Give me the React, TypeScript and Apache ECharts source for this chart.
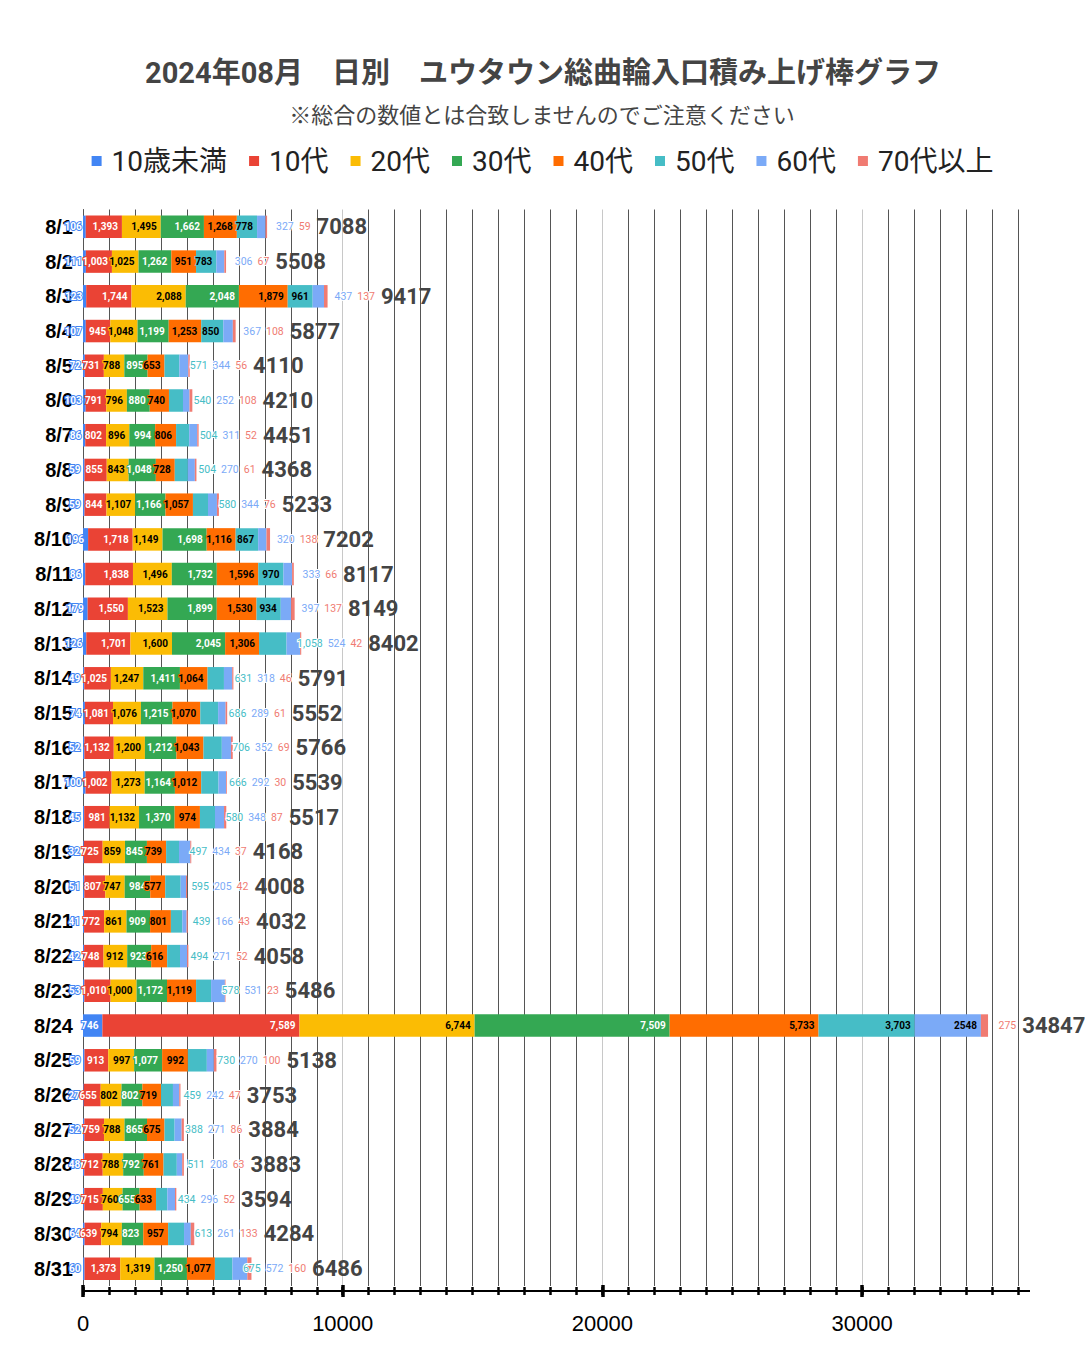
import React, { useEffect, useRef } from 'react';
import * as echarts from 'echarts';

const categories = [
  '8/1', '8/2', '8/3', '8/4', '8/5', '8/6', '8/7', '8/8', '8/9', '8/10',
  '8/11', '8/12', '8/13', '8/14', '8/15', '8/16', '8/17', '8/18', '8/19', '8/20',
  '8/21', '8/22', '8/23', '8/24', '8/25', '8/26', '8/27', '8/28', '8/29', '8/30', '8/31',
];

const seriesNames = ['10歳未満', '10代', '20代', '30代', '40代', '50代', '60代', '70代以上'];
const seriesColors = ['#4285f4', '#ea4335', '#fbbc04', '#34a853', '#ff6d01', '#46bdc6', '#7baaf7', '#f07b72'];

const under10 = [106, 111, 123, 107, 72, 103, 86, 59, 59, 196, 86, 179, 126, 49, 74, 52, 100, 45, 32, 51, 41, 42, 53, 746, 59, 27, 52, 48, 49, 64, 60];
const age10 = [1393, 1003, 1744, 945, 731, 791, 802, 855, 844, 1718, 1838, 1550, 1701, 1025, 1081, 1132, 1002, 981, 725, 807, 772, 748, 1010, 7589, 913, 655, 759, 712, 715, 639, 1373];
const age20 = [1495, 1025, 2088, 1048, 788, 796, 896, 843, 1107, 1149, 1496, 1523, 1600, 1247, 1076, 1200, 1273, 1132, 859, 747, 861, 912, 1000, 6744, 997, 802, 788, 788, 760, 794, 1319];
const age30 = [1662, 1262, 2048, 1199, 895, 880, 994, 1048, 1166, 1698, 1732, 1899, 2045, 1411, 1215, 1212, 1164, 1370, 845, 984, 909, 923, 1172, 7509, 1077, 802, 865, 792, 655, 823, 1250];
const age40 = [1268, 951, 1879, 1253, 653, 740, 806, 728, 1057, 1116, 1596, 1530, 1306, 1064, 1070, 1043, 1012, 974, 739, 577, 801, 616, 1119, 5733, 992, 719, 675, 761, 633, 957, 1077];
const age50 = [778, 783, 961, 850, 571, 540, 504, 504, 580, 867, 970, 934, 1058, 631, 686, 706, 666, 580, 497, 595, 439, 494, 578, 3703, 730, 459, 388, 511, 434, 613, 675];
const age60 = [327, 306, 437, 367, 344, 252, 311, 270, 344, 320, 333, 397, 524, 318, 289, 352, 292, 348, 434, 205, 166, 271, 531, 2548, 270, 242, 271, 208, 296, 261, 572];
const age70 = [59, 67, 137, 108, 56, 108, 52, 61, 76, 138, 66, 137, 42, 46, 61, 69, 30, 87, 37, 42, 43, 52, 23, 275, 100, 47, 86, 63, 52, 133, 160];

const xMajorTicks = [0, 10000, 20000, 30000];
const X_MAX = 36000;

const FONT = "Roboto, 'Noto Sans CJK JP', sans-serif";
const AXIS_FONT = "'Liberation Sans', Arial, sans-serif";

const GRID_LEFT = 83;
const GRID_RIGHT_EDGE = 1018;
const GRID_TOP = 209.5;
const GRID_BOTTOM_Y = 1286;
const AXIS_OFFSET = 5;
const PX = (GRID_RIGHT_EDGE - GRID_LEFT) / X_MAX;

const values = [under10, age10, age20, age30, age40, age50, age60, age70];
const insideTextColors = ['#fff', '#fff', '#000', '#fff', '#000', '#000', '#000', '#000'];
const alwaysInside = [true, true, true, true, true, false, false, false];
const useComma = [true, true, true, true, true, true, false, true];

function fmtv(v: number, comma: boolean) {
  return comma ? v.toLocaleString('en-US') : String(v);
}
function fits(v: number, t: string) {
  return v * PX >= t.length * 6.5;
}

export default function App() {
  const ref = useRef<HTMLDivElement>(null);
  useEffect(() => {
    const chart = echarts.init(ref.current!, null, { renderer: 'svg' });

    const totals = categories.map((_, j) => values.reduce((s, arr) => s + arr[j], 0));
    const richTexts: string[] = [];
    const distances: number[] = [];
    categories.forEach((_, j) => {
      const parts: string[] = [];
      let firstOut = -1;
      for (let k = 5; k <= 7; k++) {
        const v = values[k][j];
        const t = fmtv(v, useComma[k]);
        if (!fits(v, t)) {
          if (firstOut < 0) firstOut = k;
          parts.push(`{s${k}|${t}}`);
        }
      }
      parts.push(`{t|${totals[j]}}`);
      richTexts.push(parts.join(''));
      let rest = 0;
      if (firstOut >= 0) {
        for (let k = firstOut + 1; k <= 7; k++) rest += values[k][j];
      }
      distances.push(10.5 - rest * PX);
    });

    const smallRich = (k: number) => ({
      color: seriesColors[k],
      fontSize: 10.5,
      fontFamily: FONT,
      padding: [0, 5, 0, 0],
      textBorderColor: '#fff',
      textBorderWidth: 2,
      verticalAlign: 'middle',
    });

    const splitColors = ['#c8c8c8', '#555', '#555', '#555', '#555', '#555', '#555', '#555', '#555', '#555'];

    const baseX = {
      type: 'value',
      min: 0,
      max: X_MAX,
      interval: 1000,
      position: 'bottom',
      offset: AXIS_OFFSET,
      gridIndex: 0,
    };

    const series: any[] = seriesNames.map((name, i) => ({
      name,
      type: 'bar',
      stack: 'total',
      barWidth: 22.5,
      data: values[i],
      itemStyle: { color: seriesColors[i] },
      label: {
        show: true,
        position: 'insideRight',
        distance: 4,
        fontSize: 10,
        fontWeight: 'bold',
        fontFamily: FONT,
        color: insideTextColors[i],
        textBorderColor: seriesColors[i],
        textBorderWidth: 2,
        formatter: (p: any) => {
          const t = fmtv(p.value, useComma[i]);
          return alwaysInside[i] || fits(p.value, t) ? t : '';
        },
      },
    }));

    series.push({
      name: 'total',
      type: 'bar',
      barWidth: 22.5,
      barGap: '-100%',
      silent: true,
      itemStyle: { color: 'rgba(0,0,0,0)' },
      data: totals.map((t, j) => ({ value: t, label: { distance: distances[j] } })),
      label: {
        show: true,
        position: 'right',
        formatter: (p: any) => richTexts[p.dataIndex],
        rich: {
          s5: smallRich(5),
          s6: smallRich(6),
          s7: smallRich(7),
          t: {
            fontSize: 22,
            fontWeight: 'bold',
            color: '#444',
            fontFamily: FONT,
            padding: [0, 0, 0, 1],
            verticalAlign: 'middle',
          },
        },
      },
    });

    const option: any = {
      animation: false,
      backgroundColor: '#fff',
      title: [
        {
          text: '2024年08月　日別　ユウタウン総曲輪入口積み上げ棒グラフ',
          left: 538,
          top: 53,
          textAlign: 'center',
          textStyle: { fontSize: 29, fontWeight: 'bold', color: '#444', fontFamily: FONT },
        },
        {
          text: '※総合の数値とは合致しませんのでご注意ください',
          left: 537,
          top: 99,
          textAlign: 'center',
          textStyle: { fontSize: 22, fontWeight: 'normal', color: '#444', fontFamily: FONT },
        },
      ],
      legend: {
        data: seriesNames,
        top: 142,
        left: 'center',
        icon: 'rect',
        itemWidth: 10,
        itemHeight: 10,
        itemGap: 22,
        textStyle: { fontSize: 28, color: '#222', fontFamily: FONT, padding: [0, 0, 0, 5] },
      },
      grid: {
        left: GRID_LEFT,
        right: 1085 - GRID_RIGHT_EDGE,
        top: GRID_TOP,
        bottom: 1364 - GRID_BOTTOM_Y,
        containLabel: false,
      },
      xAxis: [
        {
          ...baseX,
          axisLine: { show: true, lineStyle: { color: '#000', width: 2 } },
          axisTick: { show: true, length: 4, lineStyle: { color: '#000', width: 2.5 } },
          axisLabel: {
            show: true,
            fontSize: 22,
            color: '#000',
            margin: 21,
            fontFamily: AXIS_FONT,
            formatter: (v: number) => (xMajorTicks.indexOf(v) >= 0 ? String(v) : ''),
          },
          splitLine: { show: true, lineStyle: { color: splitColors, width: 1 } },
        },
        {
          ...baseX,
          axisLine: { show: false },
          axisTick: { show: true, inside: true, length: 4, lineStyle: { color: '#000', width: 2.5 } },
          axisLabel: { show: false },
          splitLine: { show: false },
        },
        {
          ...baseX,
          axisLine: { show: false },
          axisTick: { show: true, length: 6, customValues: xMajorTicks, lineStyle: { color: '#000', width: 3.5 } },
          axisLabel: { show: false },
          splitLine: { show: false },
        },
        {
          ...baseX,
          axisLine: { show: false },
          axisTick: { show: true, inside: true, length: 6, customValues: xMajorTicks, lineStyle: { color: '#000', width: 3.5 } },
          axisLabel: { show: false },
          splitLine: { show: false },
        },
      ],
      yAxis: {
        type: 'category',
        data: categories,
        inverse: true,
        axisLine: { show: true, lineStyle: { color: '#555', width: 1 } },
        axisTick: { show: false },
        axisLabel: {
          fontSize: 20,
          fontWeight: 'bold',
          color: '#000',
          margin: 10,
          fontFamily: AXIS_FONT,
        },
        splitLine: { show: false },
      },
      graphic: [
        {
          type: 'line',
          shape: {
            x1: GRID_RIGHT_EDGE,
            y1: GRID_BOTTOM_Y + AXIS_OFFSET,
            x2: 1030,
            y2: GRID_BOTTOM_Y + AXIS_OFFSET,
          },
          style: { stroke: '#000', lineWidth: 2 },
          silent: true,
        },
      ],
      series,
    };

    chart.setOption(option);
    return () => chart.dispose();
  }, []);

  return (
    <div
      ref={ref}
      style={{ position: 'absolute', left: 0, top: 0, width: 1085, height: 1364, background: '#fff' }}
    />
  );
}
